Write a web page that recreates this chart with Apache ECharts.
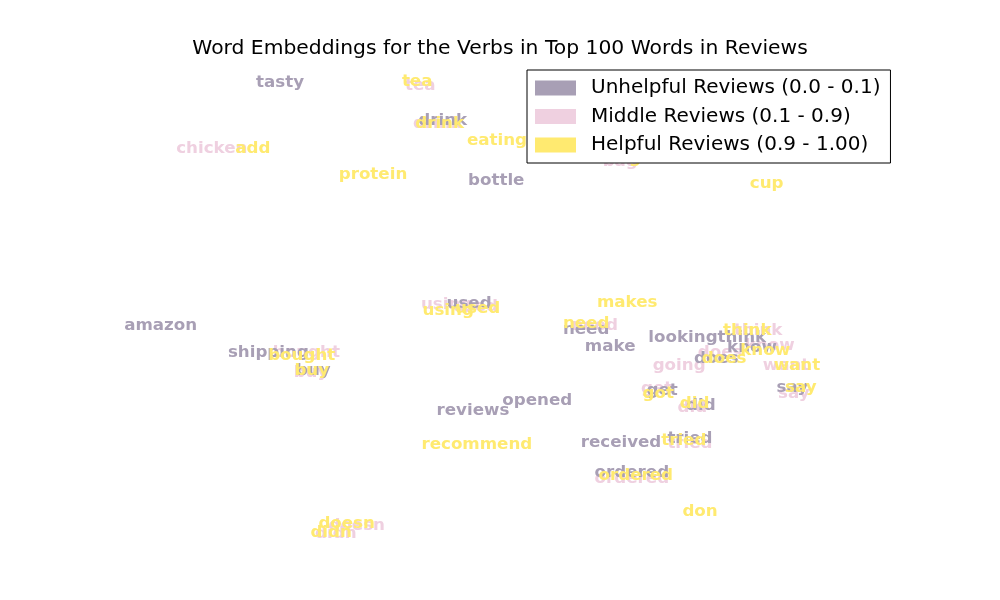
<!DOCTYPE html>
<html>
<head>
<meta charset="utf-8">
<script src="https://cdn.jsdelivr.net/npm/echarts@6/dist/echarts.min.js"></script>
<style>
  html, body { margin: 0; padding: 0; background: #fff; }
  #main { width: 1000px; height: 600px; }
</style>
</head>
<body>
<div id="main"></div>
<script>
// 2D embedding coordinates for each review group
const unhelpfulWords = ['tasty', 'drink', 'bottle', 'amazon', 'shipping', 'buy', 'used', 'need', 'make', 'looking',
  'think', 'know', 'does', 'get', 'did', 'say', 'reviews', 'opened', 'received', 'tried', 'ordered'];
const unhelpfulX = [20.0, 41.0, 47.9, 4.6, 18.5, 24.3, 44.4, 59.5, 62.6, 72.0,
  79.6, 80.9, 76.3, 69.3, 74.3, 86.1, 44.9, 53.2, 64.0, 72.9, 65.4];
const unhelpfulY = [97.6, 89.4, 76.4, 45.0, 39.2, 35.3, 49.8, 44.2, 40.5, 42.4,
  42.4, 40.3, 37.9, 31.0, 27.7, 31.6, 26.6, 28.8, 19.7, 20.6, 13.2];

const middleWords = ['tea', 'drink', 'chicken', 'bag', 'using', 'used', 'bought', 'buy', 'need', 'think',
  'know', 'does', 'going', 'want', 'get', 'did', 'say', 'tried', 'ordered', 'didn', 'doesn'];
const middleX = [38.1, 40.3, 11.2, 63.9, 41.5, 45.2, 23.4, 24.0, 60.6, 81.7,
  83.2, 76.8, 71.5, 85.3, 68.6, 73.2, 86.3, 72.9, 65.4, 27.2, 29.9];
const middleY = [97.0, 88.8, 83.3, 80.5, 49.6, 49.2, 39.2, 34.9, 45.0, 44.0,
  40.7, 39.2, 36.4, 36.4, 31.4, 27.3, 30.3, 19.5, 11.9, 0.0, 1.7];

const helpfulWords = ['tea', 'drink', 'add', 'eating', 'protein', 'bag', 'cup', 'using', 'used', 'makes',
  'need', 'bought', 'buy', 'think', 'know', 'does', 'want', 'say', 'got', 'did',
  'recommend', 'tried', 'ordered', 'don', 'didn', 'doesn'];
const helpfulX = [37.7, 40.6, 16.5, 48.0, 32.0, 64.3, 82.8, 41.7, 45.5, 64.8,
  59.5, 22.8, 24.1, 80.3, 82.6, 77.3, 86.7, 87.2, 68.8, 73.5,
  45.4, 72.1, 65.9, 74.2, 26.6, 28.6];
const helpfulY = [97.8, 88.8, 83.3, 85.1, 77.7, 81.2, 75.8, 48.3, 48.7, 50.0,
  45.5, 38.5, 35.3, 44.0, 39.6, 37.9, 36.4, 31.6, 30.3, 28.2,
  19.3, 20.1, 12.6, 4.8, 0.2, 2.2];

const groupNames = ['Unhelpful Reviews (0.0 - 0.1)', 'Middle Reviews (0.1 - 0.9)', 'Helpful Reviews (0.9 - 1.00)'];
const groupColors = ['#a89fb5', '#efd0e0', '#ffea70'];

function toPoints(words, xs, ys) {
  return words.map((w, i) => ({ name: w, value: [xs[i], ys[i]] }));
}

function wordSeries(name, color, points) {
  return {
    name: name,
    type: 'scatter',
    symbolSize: 0,
    itemStyle: { color: color, opacity: 1 },
    label: {
      show: true,
      position: 'inside',
      formatter: p => p.name,
      color: color,
      fontFamily: 'DejaVu Sans',
      fontWeight: 'bold',
      fontSize: 16.7
    },
    emphasis: { disabled: true },
    data: points
  };
}

const chart = echarts.init(document.getElementById('main'));
chart.setOption({
  animation: false,
  backgroundColor: '#fff',
  title: {
    text: 'Word Embeddings for the Verbs in Top 100 Words in Reviews',
    left: 'center',
    top: 34,
    textStyle: { fontFamily: 'DejaVu Sans', fontWeight: 'normal', fontSize: 20.3, color: '#000' }
  },
  legend: {
    data: groupNames,
    orient: 'vertical',
    left: 527,
    top: 70,
    padding: [8, 10, 8, 8],
    icon: 'rect',
    itemWidth: 41,
    itemHeight: 15,
    itemGap: 8.5,
    backgroundColor: '#fff',
    borderColor: '#000',
    borderWidth: 1,
    borderRadius: 0,
    z: 10,
    textStyle: { fontFamily: 'DejaVu Sans', fontSize: 20, color: '#000', lineHeight: 20, padding: [0, 0, 0, 10] }
  },
  grid: { left: 125, right: 100, top: 72, bottom: 66 },
  xAxis: { type: 'value', min: 0, max: 100, show: false },
  yAxis: { type: 'value', min: 0, max: 100, show: false },
  series: [
    wordSeries(groupNames[1], groupColors[1], toPoints(middleWords, middleX, middleY)),
    wordSeries(groupNames[0], groupColors[0], toPoints(unhelpfulWords, unhelpfulX, unhelpfulY)),
    wordSeries(groupNames[2], groupColors[2], toPoints(helpfulWords, helpfulX, helpfulY))
  ]
});
</script>
</body>
</html>
